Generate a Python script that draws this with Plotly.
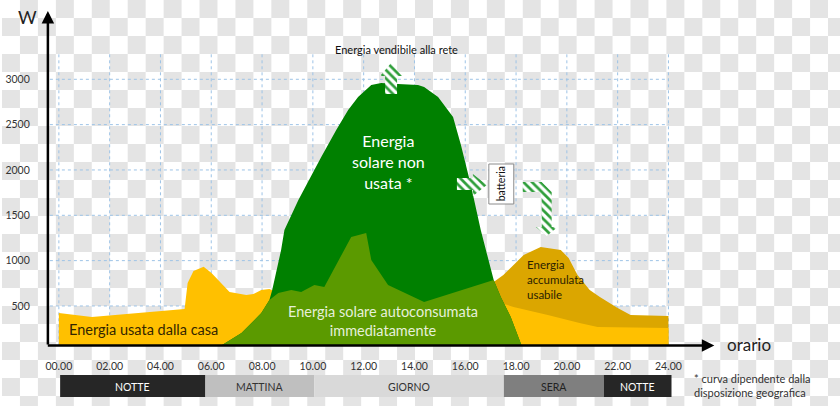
import plotly.graph_objects as go

W, H = 840, 406
FONT = "Lato"

# ---------------- data (hours, watts) ----------------
home_h = [0, 1.3, 4.95, 5.07, 5.3, 5.7, 6.01, 6.72, 7.38, 7.66, 7.97, 8.29, 8.64, 9.15, 9.54,
          10.06, 10.45, 11.51, 12.10, 12.30, 12.96, 14.38, 17.12, 17.4, 17.9, 19.25, 20.5, 21.21, 24]
home_w = [422, 378, 466, 753, 886, 933, 864, 654, 621, 632, 676, 687, 643, 676, 654,
          731, 709, 1261, 1305, 1007, 731, 544, 566, 533, 489, 400, 312, 268, 257]

battery_h = [17.12, 17.5, 18.3, 18.97, 19.76, 20.07, 20.42, 20.9, 21.3, 22.0, 22.51, 24]
battery_w = [763, 841, 1062, 1150, 1117, 1029, 841, 676, 599, 477, 400, 389]

solar_h = [6.2, 7.19, 7.97, 8.29, 8.4, 8.75, 8.88, 9.43, 10.33, 10.92, 11.39, 11.78, 12.3, 12.69,
           13.35, 14.14, 14.38, 14.93, 15.52, 15.83, 16.22, 16.61, 17.12, 17.40, 17.79, 18.18, 18.3]
solar_w = [30, 202, 422, 565, 676, 1117, 1338, 1669, 2143, 2441, 2662, 2805, 2937, 2959,
           2948, 2937, 2915, 2805, 2585, 2276, 1835, 1338, 786, 598, 378, 91, 0]

self_h = [6.2, 7.19, 7.97, 8.29, 8.64, 9.15, 9.54, 10.06, 10.45, 11.51, 12.10, 12.30, 12.96,
          14.38, 17.12, 17.40, 17.79, 18.18, 18.3]
self_w = [30, 202, 422, 565, 643, 676, 654, 731, 709, 1261, 1305, 1007, 731,
          544, 786, 598, 378, 91, 0]

x_ticks = [0, 2, 4, 6, 8, 10, 12, 14, 16, 18, 20, 22, 24]
x_labels = ["00.00", "02.00", "04.00", "06.00", "08.00", "10.00", "12.00", "14.00",
            "16.00", "18.00", "20.00", "22.00", "24.00"]
y_ticks = [500, 1000, 1500, 2000, 2500, 3000]

periods = ["NOTTE", "MATTINA", "GIORNO", "SERA", "NOTTE"]
period_start = [0.05, 5.77, 10.05, 17.52, 21.45]
period_end = [5.77, 10.05, 17.52, 21.45, 24.12]
period_fill = ["#262626", "#bfbfbf", "#d9d9d9", "#7f7f7f", "#262626"]
period_text = ["white", "#333333", "#333333", "#222222", "white"]

# ---------------- helpers ----------------
def px(x):
    return x / W

def py(y):
    return 1 - y / H

def hour_of(xpx):
    return (xpx - 57) / 25.46

def watt_of(ypx):
    return (351.3 - ypx) / 0.09067

fig = go.Figure()

# areas
area_kw = dict(fill="tozeroy", mode="none", hoverinfo="skip")
fig.add_trace(go.Scatter(x=battery_h, y=battery_w, fillcolor="#dba600", **area_kw))
fig.add_trace(go.Scatter(x=home_h, y=home_w, fillcolor="#ffc000", **area_kw))
fig.add_trace(go.Scatter(x=solar_h, y=solar_w, fillcolor="#008000", **area_kw))
fig.add_trace(go.Scatter(x=self_h, y=self_w, fillcolor="#5b9a00", **area_kw))

# hatched arrows (pixel space overlay)
arrows = [
    [(384, 94), (384, 76), (379, 76), (390, 63), (401, 76), (396, 76), (396, 94)],
    [(456, 178), (472, 178), (472, 174), (486, 185), (472, 196), (472, 190), (456, 190)],
    [(522, 182), (541, 182), (551, 192), (551, 227), (557, 227), (546, 236), (535, 227),
     (541, 227), (541, 195), (538, 192), (522, 192)],
]
for poly in arrows:
    xs = [p[0] for p in poly] + [poly[0][0]]
    ys = [p[1] for p in poly] + [poly[0][1]]
    fig.add_trace(go.Scatter(x=xs, y=ys, xaxis="x2", yaxis="y2", mode="none", fill="toself",
                             fillcolor="white",
                             fillpattern=dict(shape="\\", fgcolor="#2f9e3a", bgcolor="white",
                                              size=6, solidity=0.45, fillmode="replace"),
                             hoverinfo="skip"))

shapes = []
# checkerboard background (transparent-png look) as one vector path
CELL = 18
parts = []
for r in range(H // CELL + 1):
    for c in range(W // CELL + 1):
        if (r + c) % 2 == 1:
            x0, x1 = px(c * CELL), px(min((c + 1) * CELL, W))
            y0, y1 = py(r * CELL), py(min((r + 1) * CELL, H))
            parts.append(f"M{x0:.5f},{y0:.5f}L{x1:.5f},{y0:.5f}L{x1:.5f},{y1:.5f}L{x0:.5f},{y1:.5f}Z")
shapes.append(dict(type="path", xref="paper", yref="paper", path="".join(parts),
                   fillcolor="#e4e4e4", line=dict(width=0), layer="below"))
# gridlines
for v in y_ticks:
    shapes.append(dict(type="line", xref="x", yref="y", x0=hour_of(48), x1=24, y0=v, y1=v,
                       line=dict(color="#9dc3e6", width=1, dash="dot"), layer="below"))
for h in x_ticks:
    shapes.append(dict(type="line", xref="x", yref="y", x0=h, x1=h, y0=0, y1=3300,
                       line=dict(color="#9dc3e6", width=1, dash="dot"), layer="below"))
# time bar
for s, e, c in zip(period_start, period_end, period_fill):
    shapes.append(dict(type="rect", xref="x", yref="paper", x0=s, x1=e, y0=py(397), y1=py(375),
                       fillcolor=c, line=dict(width=0)))
# batteria box
shapes.append(dict(type="rect", xref="paper", yref="paper", x0=px(488), x1=px(513),
                   y0=py(204), y1=py(164), fillcolor="white", line=dict(color="#8c8c8c", width=1)))

ann = []
def text(xp, yp, t, size, color, xanchor="center", align="center", angle=0):
    ann.append(dict(xref="paper", yref="paper", x=px(xp), y=py(yp), text=t, showarrow=False,
                    xanchor=xanchor, yanchor="middle", align=align, textangle=angle,
                    font=dict(family=FONT, size=size, color=color)))

# axis arrows
ann.append(dict(xref="paper", yref="paper", x=px(714), y=py(345.5), ax=-668, ay=0, text="",
                showarrow=True, arrowhead=2, arrowsize=1, arrowwidth=2.5, arrowcolor="black"))
ann.append(dict(xref="paper", yref="paper", x=px(46), y=py(11), ax=0, ay=335, text="",
                showarrow=True, arrowhead=2, arrowsize=1, arrowwidth=2.5, arrowcolor="black"))
text(26, 17, "W", 18, "#222")
text(749, 344, "orario", 17, "#222")
# period labels
for s, e, t, c in zip(period_start, period_end, periods, period_text):
    ann.append(dict(xref="x", yref="paper", x=(s + e) / 2, y=py(386.5), text=t, showarrow=False,
                    xanchor="center", yanchor="middle",
                    font=dict(family=FONT, size=10.5, color=c)))
# texts
text(395, 50, "Energia vendibile alla rete", 11, "#111")
text(387, 161, "Energia<br>solare non<br>usata *", 16, "white")
text(382, 320.5, "Energia solare autoconsumata<br>immediatamente", 14.5, "#e6f0da")
text(65, 329, "Energia usata dalla casa", 14.5, "#332600", xanchor="left")
text(524, 279.5, "Energia<br>accumulata<br>usabile", 11.5, "#2b2200", xanchor="left", align="left")
text(500.5, 184, "batteria", 10.5, "#111", angle=-90)
text(692, 385, "* curva dipendente dalla<br>disposizione geografica", 11, "#333",
     xanchor="left", align="left")

hidden = dict(visible=False, fixedrange=True)
fig.update_layout(
    width=W, height=H, margin=dict(l=0, r=0, t=0, b=0),
    paper_bgcolor="white", plot_bgcolor="rgba(0,0,0,0)", showlegend=False,
    xaxis=dict(domain=[px(46), px(713)], range=[hour_of(46), hour_of(713)], anchor="y",
               tickvals=x_ticks, ticktext=x_labels, showgrid=False, zeroline=False,
               showline=False, ticks="outside", ticklen=10, tickcolor="rgba(0,0,0,0)",
               tickfont=dict(family=FONT, size=10.5, color="#333"), fixedrange=True),
    yaxis=dict(domain=[py(346), py(12)], range=[watt_of(346), watt_of(12)], anchor="x",
               tickvals=y_ticks, showgrid=False, zeroline=False, showline=False,
               ticks="outside", ticklen=15, tickcolor="rgba(0,0,0,0)",
               tickfont=dict(family=FONT, size=10.5, color="#333"), fixedrange=True),
    xaxis2=dict(domain=[0, 1], range=[0, W], anchor="y2", **hidden),
    yaxis2=dict(domain=[0, 1], range=[H, 0], anchor="x2", **hidden),
    shapes=shapes, annotations=ann,
)

fig.write_html("out.html")
